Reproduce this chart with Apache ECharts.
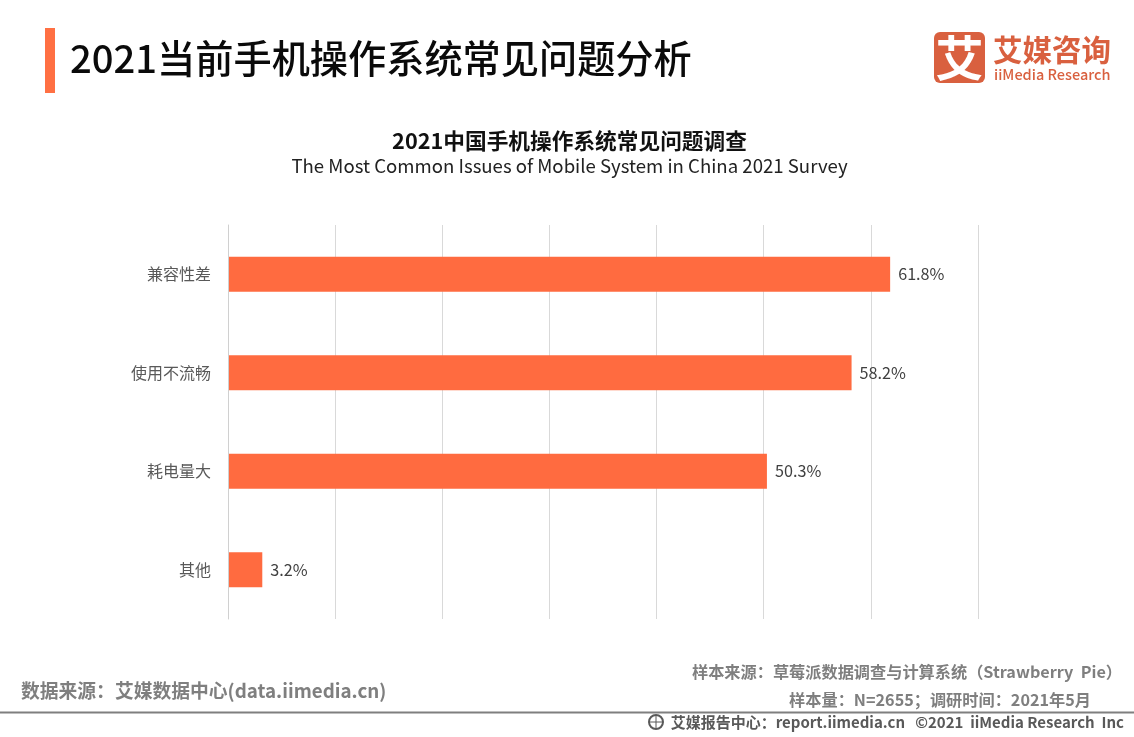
<!DOCTYPE html>
<html>
<head>
<meta charset="utf-8">
<style>html,body{margin:0;padding:0;background:#fff}#c{width:1134px;height:737px}</style>
<script src="https://cdn.jsdelivr.net/npm/echarts@6/dist/echarts.min.js"></script>
</head>
<body>
<div id="c"></div>
<script>
const categories = ['兼容性差', '使用不流畅', '耗电量大', '其他'];
const values = [61.8, 58.2, 50.3, 3.2];
const axisMin = 0, axisMax = 70, axisStep = 10;
const CJK = '"Noto Sans CJK SC","Noto Sans",sans-serif';
const chart = echarts.init(document.getElementById('c'), null, {renderer: 'canvas'});
function txt(x, y, text, size, color, weight, align) {
  return {type: 'text', x, y, silent: true, style: {
    text, fontSize: size, fill: color, fontWeight: weight || 'normal',
    fontFamily: CJK, align: align || 'left', verticalAlign: 'middle'}};
}
chart.setOption({
  animation: false,
  backgroundColor: '#fff',
  title: {
    text: '2021中国手机操作系统常见问题调查',
    subtext: 'The Most Common Issues of Mobile System in China 2021 Survey',
    left: 564.5, top: 123, textAlign: 'center', itemGap: 0,
    textStyle: {fontFamily: CJK, fontSize: 21.7, fontWeight: 'bold', color: '#111', lineHeight: 26},
    subtextStyle: {fontFamily: CJK, fontSize: 18.6, color: '#222', lineHeight: 24}
  },
  grid: {left: 228, right: 156, top: 225, bottom: 118},
  xAxis: {
    type: 'value', min: axisMin, max: axisMax, interval: axisStep,
    axisLine: {show: false}, axisTick: {show: false}, axisLabel: {show: false},
    splitLine: {show: true, lineStyle: {color: '#d9d9d9', width: 1}}
  },
  yAxis: {
    type: 'category', inverse: true, data: categories, z: 3,
    axisLine: {show: true, lineStyle: {color: '#d0d0d0', width: 1}},
    axisTick: {show: false},
    axisLabel: {fontFamily: CJK, fontSize: 16, color: '#595959', margin: 17}
  },
  series: [{
    type: 'bar', data: values, barWidth: 35,
    itemStyle: {color: '#FF6B40'},
    label: {show: true, position: 'right', distance: 8, formatter: p => p.value.toFixed(1) + '%',
      fontFamily: CJK, fontSize: 16.2, color: '#404040'}
  }],
  graphic: {elements: [
    {type: 'rect', shape: {x: 45, y: 28, width: 10, height: 65}, silent: true, style: {fill: '#FF7043'}},
    txt(70, 58, '2021当前手机操作系统常见问题分析', 38.2, '#0a0a0a', '500'),
    {type: 'rect', shape: {x: 934, y: 32, width: 51, height: 51, r: 6}, silent: true, style: {fill: '#D9603F'}},
    txt(959.5, 58, '艾', 48, '#fff', 'bold', 'center'),
    txt(993, 50, '艾媒咨询', 29.5, '#D9603F', 'bold'),
    txt(994, 74, 'iiMedia Research', 14.5, '#D9603F', '500'),
    txt(21, 691, '数据来源：艾媒数据中心(data.iimedia.cn)', 18.8, '#7f7f7f', 'bold'),
    txt(1122, 672, '样本来源：草莓派数据调查与计算系统（Strawberry  Pie）', 16.2, '#7f7f7f', 'bold', 'right'),
    txt(1091, 700, '样本量：N=2655；调研时间：2021年5月', 16.2, '#7f7f7f', 'bold', 'right'),
    {type: 'rect', shape: {x: 0, y: 711.5, width: 1134, height: 2}, silent: true, style: {fill: '#7f7f7f'}},
    {type: 'circle', shape: {cx: 656, cy: 722, r: 7}, silent: true, style: {fill: 'none', stroke: '#595959', lineWidth: 2}},
    {type: 'line', shape: {x1: 649, y1: 722, x2: 663, y2: 722}, silent: true, style: {stroke: '#595959', lineWidth: 1}},
    {type: 'line', shape: {x1: 656, y1: 715, x2: 656, y2: 729}, silent: true, style: {stroke: '#595959', lineWidth: 1}},
    txt(1124, 722, '艾媒报告中心：report.iimedia.cn   ©2021  iiMedia Research  Inc', 15, '#595959', 'bold', 'right')
  ]}
});
</script>
</body>
</html>
